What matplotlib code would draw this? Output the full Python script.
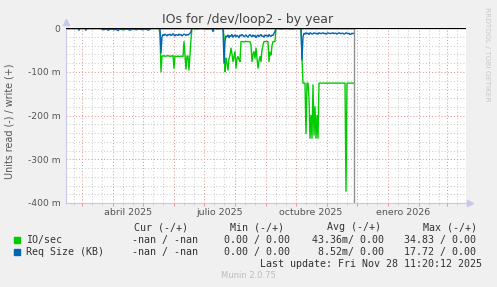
import numpy as np
import pandas as pd
import matplotlib
matplotlib.use("Agg")
import matplotlib.pyplot as plt
import matplotlib.dates as mdates
from matplotlib.ticker import MultipleLocator, FuncFormatter, NullFormatter
from matplotlib.patches import Rectangle

# --- data (days since 2025-02-13, values in milli) ---
START = pd.Timestamp("2025-02-13")
NOW = pd.Timestamp("2025-11-28")
SPAN_DAYS = 400

# IO/sec, read side (drawn negative)
io_read_day = ([0, 12, 13, 14, 19, 20, 21, 35, 36, 38, 40, 42, 44, 46, 48, 50, 52, 54, 56, 58,
                60, 62, 64, 66, 68, 70, 72, 74, 76, 78, 80, 82, 84, 85, 93]
               + list(range(94, 127))
               + [127, 130, 134, 140, 146, 147, 152, 156, 157]
               + list(range(158, 211))
               + [211, 215, 220, 226, 230, 235]
               + list(range(236, 254)) + [279, 280, 281, 288])
io_read = ([0, 0, 3, 0, 0, 3, 0, 0, 2, 3, 2, 4, 2, 3, 2, 3, 2, 2, 4, 2,
            3, 2, 3, 2, 2, 3, 2, 3, 2, 2, 3, 2, 2, 0, 0]
           # mid may - june
           + [15, 100, 64, 64, 63, 65, 64, 64, 63, 64, 65, 64, 64, 63, 92, 64, 65,
              65, 64, 65, 65, 64, 65, 65, 31, 64, 94, 64, 64, 96, 60, 25, 0]
           + [0, 1, 0, 1, 2, 0, 1, 0, 1]
           # late july - september
           + [20, 100, 69, 80, 96, 70, 62, 46, 60, 77, 65, 54, 92, 70, 65, 72, 77,
              31, 31, 31, 32, 31, 31, 31, 31, 31, 31, 39, 77, 60, 54, 69, 46, 70, 92,
              75, 65, 77, 50, 39, 31, 31, 31, 31, 31, 77, 55, 62, 40, 31, 31, 31, 0]
           + [0, 1, 0, 1, 0, 0]
           # october - november
           + [70, 126, 126, 126, 241, 126, 126, 160, 252, 200, 252, 130, 245, 180,
              252, 200, 252, 126, 126, 373, 126, 126])

# Req Size (KB), read side (drawn negative)
req_read_day = ([0, 12, 13, 14, 19, 20, 21, 35]
                + list(range(36, 86, 2)) + [85, 93, 94, 95, 96]
                + list(range(97, 127))
                + [127, 130, 135, 140, 146, 147, 148, 152, 156, 157, 158, 159]
                + list(range(160, 211))
                + [211, 215, 220, 226, 230, 235, 236, 237]
                + list(range(238, 289)))
req_read = ([0, 0, 5, 0, 0, 5, 0, 0]
            + [3, 4, 2, 5, 3, 2, 4, 3, 6, 2, 3, 4, 2, 3, 5, 3, 2, 4, 3, 2, 4, 3, 2, 5, 3]
            + [0, 0, 0, 57, 20]
            + [15, 17, 14, 16, 18, 15, 16, 14, 17, 16, 13, 16, 18, 15, 16, 17, 14, 16,
               15, 18, 16, 14, 15, 17, 15, 16, 14, 12, 8, 0]
            + [1, 2, 1, 2, 1, 8, 1, 2, 1, 1, 80, 30]
            + [18, 20, 16, 22, 17, 19, 15, 21, 18, 16, 20, 17, 19, 22, 16, 18, 15, 17,
               20, 18, 16, 19, 21, 17, 15, 18, 20, 16, 19, 17, 22, 18, 16, 20, 17, 15,
               19, 18, 21, 16, 18, 17, 20, 15, 18, 19, 16, 17, 12, 8, 0]
            + [1, 2, 1, 2, 1, 1, 73, 20]
            + [12, 14, 11, 13, 12, 15, 11, 12, 14, 13, 11, 12, 13, 12, 14, 11, 12, 13,
               12, 11, 13, 12, 14, 12, 11, 12, 13, 12, 12, 11, 13, 12, 12, 14, 12, 11,
               12, 13, 12, 12, 14, 13, 11, 12, 13, 12, 15, 14, 12, 13, 12])

# write side is flat zero
write_day = [0, 288]
io_write = [0, 0]
req_write = [0, 0]

quarter_labels = ["abril 2025", "julio 2025", "octubre 2025", "enero 2026"]
quarter_mid = ["2025-04-16", "2025-07-16", "2025-10-16", "2026-01-16"]

legend_names = ["IO/sec", "Req Size (KB)"]
legend_colors = ["#00CC00", "#0066B3"]
legend_cur = ["-nan / -nan", "-nan / -nan"]
legend_min = ["0.00 / 0.00", "0.00 / 0.00"]
legend_avg = ["43.36m/ 0.00", " 8.52m/ 0.00"]
legend_max = ["34.83 / 0.00", "17.72 / 0.00"]


def to_dates(days):
    return START + pd.to_timedelta(np.asarray(days), unit="D")


W, H = 497, 287
fig = plt.figure(figsize=(W / 100, H / 100), dpi=100, facecolor="#F0F0F0")


def fx(px):
    return px / W


def fy(py):
    return 1 - py / H


ax = fig.add_axes([fx(66), fy(203), fx(400), 175 / H])
ax.set_facecolor("white")

# series
ax.plot(to_dates(write_day), io_write, color=legend_colors[0], lw=1.0)
ax.plot(to_dates(io_read_day), -np.array(io_read), color=legend_colors[0], lw=1.0)
ax.plot(to_dates(write_day), req_write, color=legend_colors[1], lw=1.0)
ax.plot(to_dates(req_read_day), -np.array(req_read), color=legend_colors[1], lw=1.0)
ax.axhline(0, color="black", lw=0.9, zorder=5)
ax.axvline(NOW, color="#909090", lw=1.0, zorder=4)

ax.set_xlim(START, START + pd.Timedelta(days=SPAN_DAYS))
ax.set_ylim(-400, 0)

# grid
ax.xaxis.set_major_locator(mdates.MonthLocator())
ax.xaxis.set_minor_locator(mdates.DayLocator(bymonthday=[11, 21]))
ax.xaxis.set_major_formatter(NullFormatter())
ax.yaxis.set_major_locator(MultipleLocator(100))
ax.yaxis.set_minor_locator(MultipleLocator(20))
ax.yaxis.set_major_formatter(FuncFormatter(lambda v, p: "0" if v == 0 else "%d m" % v))
ax.grid(which="major", color="#E09898", ls=(0, (1, 2)), lw=0.75)
ax.grid(which="minor", color="#CCCCCC", ls=(0, (1, 2)), lw=0.75)
ax.set_axisbelow(True)

ax.tick_params(axis="x", which="major", length=2.2, color="#E09898", width=0.7)
ax.tick_params(axis="x", which="minor", length=1.6, color="#CCCCCC", width=0.7)
ax.tick_params(axis="y", which="both", length=0, pad=4, labelsize=6.6, labelcolor="#555555")

for s in ["top", "right"]:
    ax.spines[s].set_visible(False)
for s in ["left", "bottom"]:
    ax.spines[s].set_color("#C8C8EC")
    ax.spines[s].set_linewidth(0.8)
ax.plot([0], [1.035], marker="^", ms=4.5, color="#C8C8EC", transform=ax.transAxes, clip_on=False)
ax.plot([1.01], [0], marker=">", ms=4.5, color="#C8C8EC", transform=ax.transAxes, clip_on=False)

for lab, d in zip(quarter_labels, quarter_mid):
    ax.text(pd.Timestamp(d), -9.5 / 175, lab, transform=ax.get_xaxis_transform(),
            ha="center", va="center", fontsize=6.8, color="#555555")

# texts
fig.text(fx(248), fy(19), "IOs for /dev/loop2 - by year", ha="center", va="center",
         fontsize=9, color="#444444")
fig.text(fx(10), fy(121), "Units read (-) / write (+)", rotation=90, ha="center",
         va="center", fontsize=6.9, color="#555555")
fig.text(fx(487), fy(54), "RRDTOOL / TOBI OETIKER", rotation=270, ha="center",
         va="center", fontsize=5.3, color="#C8C8C8")

mono = dict(family="DejaVu Sans Mono", fontsize=7.2, color="#333333", va="center")
for txt, x in zip(["Cur (-/+)", "Min (-/+)", "Avg (-/+)", "Max (-/+)"], [134, 230, 327, 423]):
    fig.text(fx(x), fy(227.5), txt, **mono)
for i, y in enumerate([240, 252]):
    fig.add_artist(Rectangle((fx(14), fy(y + 3)), 6 / W, 6 / H, transform=fig.transFigure,
                             color=legend_colors[i]))
    fig.text(fx(26), fy(y), legend_names[i], **mono)
    fig.text(fx(131.5), fy(y), legend_cur[i], **mono)
    fig.text(fx(224), fy(y), legend_min[i], **mono)
    fig.text(fx(311.7), fy(y), legend_avg[i], **mono)
    fig.text(fx(404.3), fy(y), legend_max[i], **mono)
fig.text(fx(482.5), fy(264), "Last update: Fri Nov 28 11:20:12 2025", ha="right", **mono)
fig.text(fx(248), fy(276), "Munin 2.0.75", ha="center", va="center", fontsize=6,
         color="#BBBBBB")

fig.savefig("out.png", dpi=100, facecolor=fig.get_facecolor())
